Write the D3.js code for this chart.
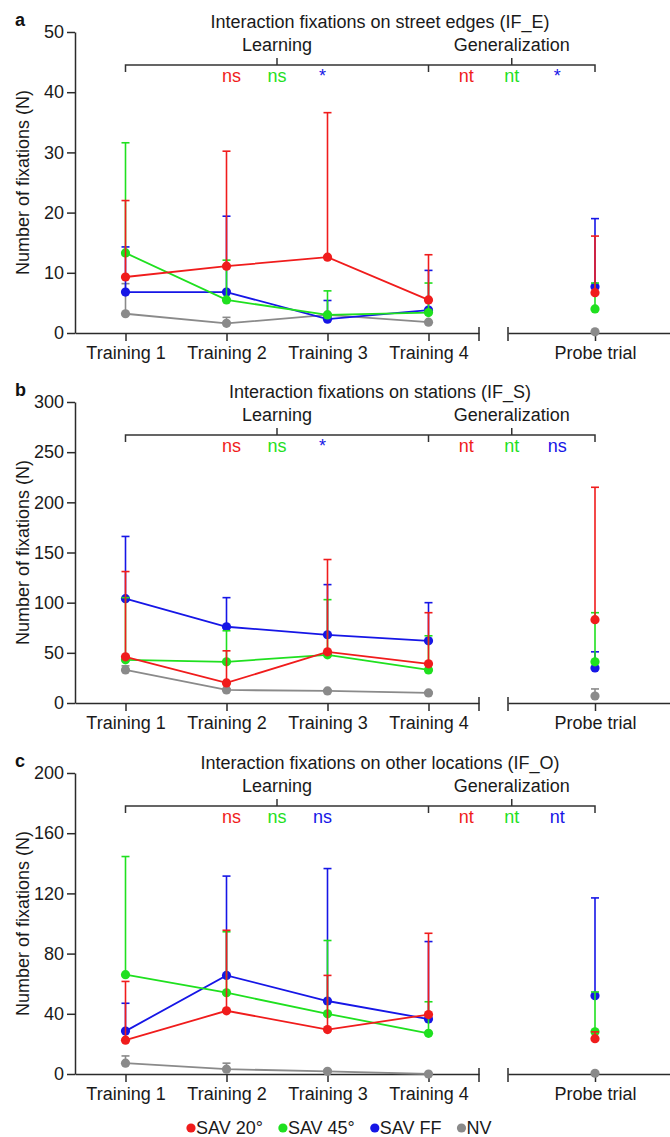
<!DOCTYPE html>
<html>
<head>
<meta charset="utf-8">
<script src="https://cdn.jsdelivr.net/npm/d3@7"></script>
<style>
  body { margin: 0; background: #fff; }
  svg { display: block; font-family: "Liberation Sans", Arial, Helvetica, sans-serif; }
</style>
</head>
<body>
<svg id="chart" width="670" height="1137"></svg>
<script>
// Categories
const trainingLabels = ["Training 1", "Training 2", "Training 3", "Training 4"];
const probeLabel = "Probe trial";
const seriesNames = ["SAV 20°", "SAV 45°", "SAV FF", "NV"];
const seriesColors = ["#f01c1c", "#1fe01f", "#1616e6", "#8a8a8a"];

// Values: Training 1..4 then Probe trial; "Top" = upper end of the error bar
// (a) Interaction fixations on street edges
const edgeSav20 = [9.3, 11.1, 12.6, 5.5, 6.7];
const edgeSav20Top = [22.0, 30.2, 36.6, 13.0, 16.1];
const edgeSav45 = [13.3, 5.5, 3.0, 3.4, 4.0];
const edgeSav45Top = [31.6, 12.1, 7.0, 8.3, 8.3];
const edgeSavFF = [6.8, 6.8, 2.3, 3.8, 7.7];
const edgeSavFFTop = [14.3, 19.4, 5.4, 10.4, 19.0];
const edgeNV = [3.2, 1.6, 3.0, 1.8, 0.2];
const edgeNVTop = [8.2, 2.6, 3.0, 1.8, 0.2];

// (b) Interaction fixations on stations
const stationSav20 = [46, 20, 51, 39, 83];
const stationSav20Top = [131, 52, 143, 90, 215];
const stationSav45 = [43, 41, 48, 33, 41];
const stationSav45Top = [105, 72, 103, 67, 90];
const stationSavFF = [104, 76, 68, 62, 35];
const stationSavFFTop = [166, 105, 118, 100, 51];
const stationNV = [33, 13, 12, 10, 7];
const stationNVTop = [37, 14, 13, 11, 14];

// (c) Interaction fixations on other locations
const otherSav20 = [22.5, 42, 29.5, 39.5, 23.5];
const otherSav20Top = [61.5, 95.5, 65.5, 93.5, 28];
const otherSav45 = [66, 54, 40, 27, 28];
const otherSav45Top = [144.5, 94.5, 88.7, 48, 54.5];
const otherSavFF = [28.5, 65.5, 48.5, 36.5, 52];
const otherSavFFTop = [47, 131.5, 136.5, 88, 117];
const otherNV = [7.2, 3.2, 1.8, 0, 0.5];
const otherNVTop = [12, 7.2, 2.5, 0, 0.5];

// Y ticks
const edgeTicks = [0, 10, 20, 30, 40, 50];
const stationTicks = [0, 50, 100, 150, 200, 250, 300];
const otherTicks = [0, 40, 80, 120, 160, 200];

// Significance marks (SAV 20°, SAV 45°, SAV FF)
const edgeLearningSig = ["ns", "ns", "*"];
const edgeGeneralSig = ["nt", "nt", "*"];
const stationLearningSig = ["ns", "ns", "*"];
const stationGeneralSig = ["nt", "nt", "ns"];
const otherLearningSig = ["ns", "ns", "ns"];
const otherGeneralSig = ["nt", "nt", "nt"];

const panels = [
  { letter: "a", title: "Interaction fixations on street edges (IF_E)", top: 32, ticks: edgeTicks,
    means: [edgeSav20, edgeSav45, edgeSavFF, edgeNV], tops: [edgeSav20Top, edgeSav45Top, edgeSavFFTop, edgeNVTop],
    learning: edgeLearningSig, general: edgeGeneralSig },
  { letter: "b", title: "Interaction fixations on stations (IF_S)", top: 402, ticks: stationTicks,
    means: [stationSav20, stationSav45, stationSavFF, stationNV], tops: [stationSav20Top, stationSav45Top, stationSavFFTop, stationNVTop],
    learning: stationLearningSig, general: stationGeneralSig },
  { letter: "c", title: "Interaction fixations on other locations (IF_O)", top: 773, ticks: otherTicks,
    means: [otherSav20, otherSav45, otherSavFF, otherNV], tops: [otherSav20Top, otherSav45Top, otherSavFFTop, otherNVTop],
    learning: otherLearningSig, general: otherGeneralSig }
];

const svg = d3.select("#chart");
const axisColor = "#2b2b2b";
const plotHeight = 301;
const axisX = 75;

const xTrain = d3.scalePoint().domain(trainingLabels).range([axisX, 479]).padding(0.5);
const xProbe = d3.scalePoint().domain([probeLabel]).range([508, 682]).padding(0.5);
const xOf = i => (i < trainingLabels.length ? xTrain(trainingLabels[i]) : xProbe(probeLabel));

// draw order: NV at the back, SAV 20° in front
const drawOrder = [3, 2, 1, 0];

function styleAxis(sel) {
  sel.selectAll("path, line").attr("stroke", axisColor).attr("stroke-width", 1.5);
  sel.selectAll("text").attr("fill", "#1a1a1a").attr("font-size", 18);
}

panels.forEach(p => {
  const g = svg.append("g");
  const y = d3.scaleLinear().domain([0, d3.max(p.ticks)]).range([p.top + plotHeight, p.top]);
  const y0 = y(0);

  // panel letter
  g.append("text").attr("x", 15).attr("y", p.top - 6)
    .attr("font-size", 18).attr("font-weight", "bold").attr("fill", "#111").text(p.letter);

  // title
  g.append("text").attr("x", 380).attr("y", p.top - 4).attr("text-anchor", "middle")
    .attr("font-size", 18).attr("fill", "#1a1a1a").text(p.title);

  // y axis
  g.append("g").attr("transform", `translate(${axisX},0)`)
    .call(d3.axisLeft(y).tickValues(p.ticks).tickSize(8).tickPadding(3).tickSizeOuter(0))
    .call(styleAxis);

  // y axis title
  g.append("text")
    .attr("transform", `translate(29,${(p.top + y0) / 2}) rotate(-90)`)
    .attr("text-anchor", "middle").attr("font-size", 18).attr("fill", "#1a1a1a")
    .text("Number of fixations (N)");

  // x axes (broken)
  g.append("g").attr("transform", `translate(0,${y0})`)
    .call(d3.axisBottom(xTrain).tickSize(8).tickPadding(5).tickSizeOuter(0))
    .call(styleAxis);
  g.append("g").attr("transform", `translate(0,${y0})`)
    .call(d3.axisBottom(xProbe).tickSize(8).tickPadding(5).tickSizeOuter(0))
    .call(styleAxis);
  [479, 508].forEach(bx => {
    g.append("line").attr("x1", bx).attr("x2", bx).attr("y1", y0 - 6).attr("y2", y0 + 8)
      .attr("stroke", axisColor).attr("stroke-width", 1.5);
  });

  // brackets
  const by = p.top + 33;
  const xL0 = xTrain(trainingLabels[0]);
  const xL1 = xTrain(trainingLabels[3]);
  const xG1 = xProbe(probeLabel);
  const midL = (xL0 + xL1) / 2;
  const midG = (xL1 + xG1) / 2;
  const br = g.append("g").attr("stroke", "#333").attr("stroke-width", 1.5).attr("fill", "none");
  br.append("path").attr("d", `M${xL0},${by + 7}V${by}H${xG1}V${by + 7}`);
  br.append("path").attr("d", `M${xL1},${by}V${by + 7}`);
  br.append("path").attr("d", `M${midL},${by}V${by - 7}`);
  br.append("path").attr("d", `M${midG},${by}V${by - 7}`);

  g.append("text").attr("x", midL).attr("y", p.top + 19).attr("text-anchor", "middle")
    .attr("font-size", 18).attr("fill", "#1a1a1a").text("Learning");
  g.append("text").attr("x", midG).attr("y", p.top + 19).attr("text-anchor", "middle")
    .attr("font-size", 18).attr("fill", "#1a1a1a").text("Generalization");

  const sigOffsets = [-45.5, 0, 45.5];
  [[p.learning, midL], [p.general, midG]].forEach(([marks, cx]) => {
    marks.forEach((m, k) => {
      g.append("text").attr("x", cx + sigOffsets[k]).attr("y", p.top + 50)
        .attr("text-anchor", "middle").attr("font-size", 18)
        .attr("fill", seriesColors[k]).text(m);
    });
  });

  // series
  const line = d3.line().x((d, i) => xOf(i)).y(d => y(d));
  drawOrder.forEach(s => {
    const col = seriesColors[s];
    const means = p.means[s];
    const tops = p.tops[s];
    const sg = g.append("g");
    // error bars
    means.forEach((m, i) => {
      const x = xOf(i);
      if (tops[i] > m) {
        sg.append("line").attr("x1", x).attr("x2", x).attr("y1", y(m)).attr("y2", y(tops[i]))
          .attr("stroke", col).attr("stroke-width", 1.6);
        sg.append("line").attr("x1", x - 4).attr("x2", x + 4).attr("y1", y(tops[i])).attr("y2", y(tops[i]))
          .attr("stroke", col).attr("stroke-width", 1.6);
      }
    });
    // connecting line across training sessions
    sg.append("path").datum(means.slice(0, trainingLabels.length))
      .attr("d", line).attr("fill", "none").attr("stroke", col).attr("stroke-width", 1.8);
    // points
    sg.selectAll("circle").data(means).join("circle")
      .attr("cx", (d, i) => xOf(i)).attr("cy", d => y(d)).attr("r", 4.6).attr("fill", col);
  });
});

// legend
const legend = svg.append("g").attr("transform", "translate(0,1127)");
let lx = 191;
seriesNames.forEach((name, i) => {
  legend.append("circle").attr("cx", lx).attr("cy", 1).attr("r", 4.6).attr("fill", seriesColors[i]);
  const t = legend.append("text").attr("x", lx + 5).attr("y", 7)
    .attr("font-size", 18).attr("fill", "#1a1a1a").text(name);
  lx += 5 + t.node().getComputedTextLength() + 20;
});
</script>
</body>
</html>
